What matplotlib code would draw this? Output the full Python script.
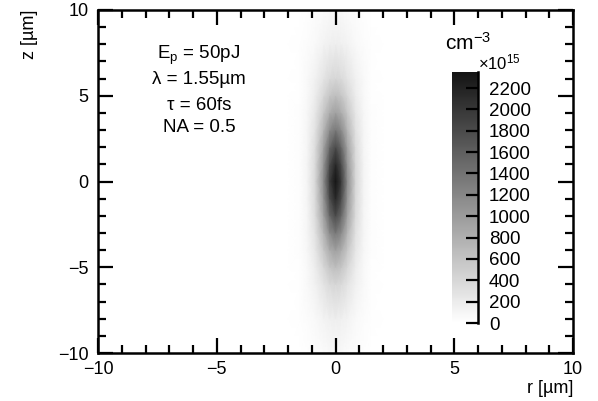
import numpy as np
import matplotlib
matplotlib.use("Agg")
import matplotlib.pyplot as plt
from matplotlib.colors import LinearSegmentedColormap
from matplotlib.ticker import MultipleLocator

plt.rcParams['font.family'] = ['Liberation Sans', 'DejaVu Sans']
plt.rcParams['mathtext.fontset'] = 'custom'
plt.rcParams['mathtext.rm'] = 'Liberation Sans'
plt.rcParams['mathtext.it'] = 'Liberation Sans:italic'

# ---- data, r >= 0 and z >= 0 half, mirrored ----
r_half = [0.0, 0.25, 0.5, 0.85, 1.2, 1.5, 2.0]        # µm
z_half = [0, 1, 2, 3, 4, 5, 6, 8, 10]                  # µm
density_half = [                                       # 1e15 cm^-3
    [2350, 1950, 1150, 400, 110, 20, 0],
    [2150, 1780, 1060, 380, 105, 20, 0],
    [1800, 1500,  930, 350, 100, 20, 0],
    [1350, 1150,  740, 300,  95, 20, 0],
    [ 950,  820,  560, 245,  85, 19, 0],
    [ 650,  575,  400, 190,  72, 17, 0],
    [ 420,  375,  275, 140,  58, 15, 0],
    [ 170,  155,  120,  72,  35, 10, 0],
    [  60,   56,   45,  28,  14,  4, 0],
]
cbar_ticks = [0, 200, 400, 600, 800, 1000, 1200, 1400, 1600, 1800, 2000, 2200]
annotations = ["E$_\\mathregular{p}$ = 50pJ", "λ = 1.55µm", "τ = 60fs", "NA = 0.5"]

rh = np.array(r_half)
zh = np.array(z_half)
dh = np.array(density_half, dtype=float)
r = np.concatenate([-rh[:0:-1], rh])
z = np.concatenate([-zh[:0:-1], zh])
d_r = np.concatenate([dh[:, :0:-1], dh], axis=1)
dens = np.concatenate([d_r[:0:-1, :], d_r], axis=0)
R, Z = np.meshgrid(r, z)

cmap = LinearSegmentedColormap.from_list("rootgray", ["#ffffff", "#141414"])

W, H = 598, 401
fig = plt.figure(figsize=(W / 100, H / 100), dpi=100)
ax = fig.add_axes([98 / W, 1 - 353 / H, 475 / W, 343 / H])
mesh = ax.pcolormesh(R, Z, dens, shading='gouraud', cmap=cmap, vmin=0, vmax=2350,
                     rasterized=True)
ax.set_xlim(-10, 10)
ax.set_ylim(-10, 10)
ax.xaxis.set_major_locator(MultipleLocator(5))
ax.yaxis.set_major_locator(MultipleLocator(5))
ax.xaxis.set_minor_locator(MultipleLocator(1))
ax.yaxis.set_minor_locator(MultipleLocator(1))
ax.tick_params(which='both', direction='in', top=True, right=True, width=1.6,
               labelsize=13)
ax.tick_params(which='major', length=11)
ax.tick_params(which='minor', length=6)
ax.tick_params(axis='y', pad=7)
ax.tick_params(axis='x', pad=6)
for s in ax.spines.values():
    s.set_linewidth(1.8)

ax.set_xlabel("r [µm]", fontsize=13, loc='right', labelpad=1)
ax.set_ylabel("z [µm]", fontsize=13, loc='top', labelpad=14)

ys = [0.869, 0.796, 0.723, 0.656]
for txt, yy in zip(annotations, ys):
    ax.text(0.2126, yy, txt, transform=ax.transAxes, ha='center', va='center',
            fontsize=13.5)

cax = fig.add_axes([452 / W, 1 - 323 / H, 26 / W, 251 / H])
cb = fig.colorbar(mesh, cax=cax, ticks=cbar_ticks)
cb.outline.set_visible(False)
cax.spines['right'].set_visible(True)
cax.spines['right'].set_linewidth(1.8)
cax.tick_params(direction='in', length=9, width=1.6, labelsize=13.5, pad=8)
fig.text(445 / W, 1 - 50 / H, "cm$^{\\mathregular{-3}}$", ha='left',
         va='baseline', fontsize=15)
fig.text(478 / W, 1 - 69 / H, "×10$^{\\mathregular{15}}$", ha='left',
         va='baseline', fontsize=12)

fig.savefig("out.png", dpi=100)
